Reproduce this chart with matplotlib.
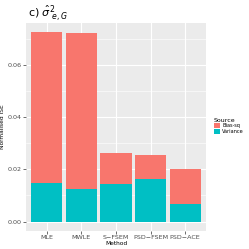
import matplotlib
matplotlib.use("Agg")
import matplotlib.pyplot as plt
import numpy as np

methods = ["MLE", "MWLE", "S\u2212FSEM", "PSD\u2212FSEM", "PSD\u2212ACE"]
variance = [0.0147, 0.0123, 0.0144, 0.0164, 0.0069]
bias_sq = [0.0580, 0.0601, 0.0120, 0.0093, 0.0134]
yticks = [0.00, 0.02, 0.04, 0.06]
ytick_labels = ["0.00", "0.02", "0.04", "0.06"]

col_bias = "#F8766D"
col_var = "#00BFC4"

fig = plt.figure(figsize=(2.49, 2.49), dpi=100)
ax = fig.add_axes([26/249, 1-231/249, 180/249, (231-22.7)/249])
ax.set_facecolor("#EBEBEB")

x = np.arange(len(methods))
total = np.array(variance) + np.array(bias_sq)
ax.bar(x, variance, width=0.9, color=col_var, label="Variance", zorder=3)
ax.bar(x, bias_sq, bottom=variance, width=0.9, color=col_bias, label="Bias-sq", zorder=3)

ymax = total.max()
ax.set_ylim(-0.05*ymax, ymax*1.05)
ax.set_xlim(-0.6, len(methods)-0.4)

ax.set_yticks(yticks)
ax.set_yticklabels(ytick_labels)
ax.set_yticks([0.01, 0.03, 0.05, 0.07], minor=True)
ax.set_xticks(x)
ax.set_xticklabels(methods)

ax.grid(which="major", color="white", linewidth=0.8, zorder=0)
ax.grid(which="minor", axis="y", color="white", linewidth=0.4, zorder=0)
ax.set_axisbelow(True)
for s in ax.spines.values():
    s.set_visible(False)
ax.tick_params(axis="both", which="major", labelsize=4.6, colors="#333333",
               labelcolor="#4D4D4D", length=2, width=0.5, pad=1.2)
ax.tick_params(axis="both", which="minor", length=0)

ax.set_ylabel("Normalised ISE", fontsize=4.2)
ax.yaxis.set_label_coords((5 - 26)/180, 0.5)
ax.set_xlabel("Method", fontsize=4.2)
ax.xaxis.set_label_coords(0.5, (231 - 241)/208.3)

fig.text(28/249, 1-14/249, r"c) $\hat{\sigma}^2_{\ e,G}$", fontsize=8, va="center", ha="left")

handles, labels = ax.get_legend_handles_labels()
leg = fig.legend(handles[::-1], labels[::-1], title="Source", loc="center left",
                 bbox_to_anchor=(210/249, 1-126/249), frameon=False,
                 fontsize=3.6, title_fontsize=4.5, handlelength=1.2, handleheight=1.2,
                 handletextpad=0.5, labelspacing=0.1, borderpad=0.2)
leg._legend_box.align = "left"

fig.savefig("out.png", dpi=100)
